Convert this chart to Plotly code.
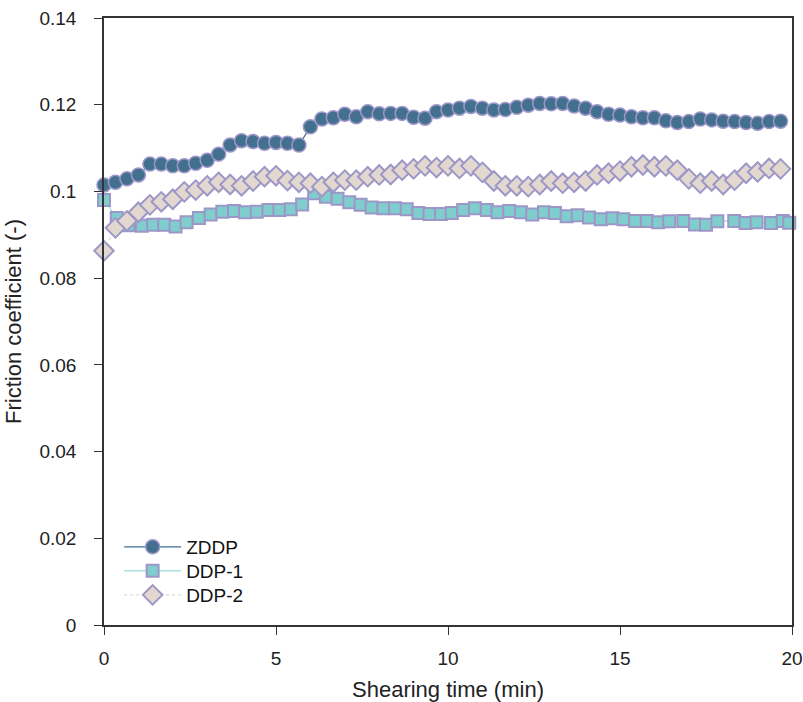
import plotly.graph_objects as go

# ---- data ----
t_zddp = [i / 3 for i in range(60)]
zddp = [0.1015, 0.1021, 0.1029, 0.1038, 0.1063, 0.1063, 0.1059, 0.1059, 0.1065, 0.1072,
        0.1086, 0.1107, 0.1117, 0.1115, 0.1111, 0.1113, 0.1111, 0.1107, 0.1149, 0.1167,
        0.1170, 0.1178, 0.1172, 0.1184, 0.1179, 0.1180, 0.1180, 0.1171, 0.1169, 0.1184,
        0.1188, 0.1192, 0.1196, 0.1192, 0.1188, 0.1189, 0.1194, 0.1199, 0.1203, 0.1202,
        0.1203, 0.1197, 0.1192, 0.1184, 0.1178, 0.1176, 0.1172, 0.1170, 0.1170, 0.1163,
        0.1159, 0.1161, 0.1167, 0.1165, 0.1162, 0.1161, 0.1159, 0.1157, 0.1161, 0.1162]

t_ddp1 = [0.0, 0.37, 0.71, 1.10, 1.43, 1.75, 2.08, 2.40, 2.76, 3.10,
          3.44, 3.78, 4.10, 4.44, 4.78, 5.10, 5.43, 5.76, 6.11, 6.45,
          6.79, 7.13, 7.46, 7.78, 8.12, 8.46, 8.80, 9.14, 9.46, 9.80,
          10.11, 10.44, 10.78, 11.13, 11.44, 11.78, 12.12, 12.45, 12.79, 13.11,
          13.45, 13.77, 14.10, 14.44, 14.78, 15.10, 15.44, 15.78, 16.11, 16.43,
          16.84, 17.18, 17.50, 17.83, 18.32, 18.65, 18.97, 19.39, 19.73, 19.92]
ddp1 = [0.0980, 0.0939, 0.0922, 0.0921, 0.0923, 0.0923, 0.0919, 0.0929, 0.0939, 0.0947,
        0.0953, 0.0955, 0.0952, 0.0953, 0.0957, 0.0957, 0.0959, 0.0970, 0.0996, 0.0988,
        0.0983, 0.0975, 0.0969, 0.0963, 0.0961, 0.0961, 0.0959, 0.0950, 0.0948, 0.0948,
        0.0950, 0.0957, 0.0961, 0.0957, 0.0952, 0.0955, 0.0952, 0.0947, 0.0952, 0.0950,
        0.0943, 0.0945, 0.0940, 0.0936, 0.0938, 0.0936, 0.0932, 0.0932, 0.0929, 0.0931,
        0.0932, 0.0924, 0.0923, 0.0931, 0.0932, 0.0927, 0.0929, 0.0927, 0.0932, 0.0928]

t_ddp2 = [i / 3 for i in range(60)]
ddp2 = [0.0863, 0.0916, 0.0932, 0.0952, 0.0969, 0.0976, 0.0982, 0.0999, 0.1003, 0.1013,
        0.1021, 0.1016, 0.1013, 0.1024, 0.1034, 0.1036, 0.1025, 0.1021, 0.1019, 0.1011,
        0.1021, 0.1026, 0.1026, 0.1034, 0.1038, 0.1039, 0.1049, 0.1052, 0.1059, 0.1055,
        0.1059, 0.1053, 0.1059, 0.1044, 0.1024, 0.1013, 0.1013, 0.1011, 0.1016, 0.1024,
        0.1019, 0.1021, 0.1024, 0.1038, 0.1042, 0.1047, 0.1057, 0.1061, 0.1057, 0.1059,
        0.1049, 0.1029, 0.1019, 0.1024, 0.1016, 0.1026, 0.1042, 0.1045, 0.1053, 0.1052]

y_ticks = [0, 0.02, 0.04, 0.06, 0.08, 0.1, 0.12, 0.14]
y_tick_labels = ["0", "0.02", "0.04", "0.06", "0.08", "0.1", "0.12", "0.14"]
x_ticks = [0, 5, 10, 15, 20]

edge = "#9d97c8"
fig = go.Figure()
fig.add_trace(go.Scatter(
    x=t_ddp1, y=ddp1, name="DDP-1", mode="lines+markers", legend="legend2",
    line=dict(color="#7fd3d3", width=1),
    marker=dict(symbol="square", size=12, color="#7fcdcc", line=dict(color=edge, width=2)),
    cliponaxis=False))
fig.add_trace(go.Scatter(
    x=t_ddp2, y=ddp2, name="DDP-2", mode="lines+markers", legend="legend3",
    line=dict(color="#d0d0d0", width=1, dash="dot"),
    marker=dict(symbol="diamond", size=15, color="#e3d8d0", line=dict(color=edge, width=2)),
    cliponaxis=False))
fig.add_trace(go.Scatter(
    x=t_zddp, y=zddp, name="ZDDP", mode="lines+markers", legend="legend",
    line=dict(color="#3f6f93", width=1.2),
    marker=dict(symbol="circle", size=14, color="#44708f", line=dict(color=edge, width=1.5)),
    cliponaxis=False))

font = "Liberation Sans, Arial, Helvetica, sans-serif"


def leg(ypaper):
    return dict(x=0.022, y=ypaper, xanchor="left", yanchor="middle",
                bgcolor="rgba(0,0,0,0)", font=dict(size=19, color="#111"),
                itemwidth=57)


fig.update_layout(
    width=803, height=702,
    margin=dict(l=104, r=11, t=18, b=77),
    plot_bgcolor="white", paper_bgcolor="white",
    font=dict(family=font, size=19, color="#222"),
    showlegend=True,
    legend=leg(0.1285),
    legend2=leg(0.0890),
    legend3=leg(0.0494),
    xaxis=dict(range=[0, 20], tickvals=x_ticks, ticks="outside", ticklen=8,
               tickcolor="#333", showline=True, linecolor="#333", linewidth=1.5,
               mirror=True, showgrid=False, zeroline=False, automargin=False,
               ticklabelstandoff=7,
               title=dict(text="Shearing time (min)", font=dict(size=22), standoff=14),
               tickfont=dict(size=19)),
    yaxis=dict(range=[0, 0.14], tickvals=y_ticks, ticktext=y_tick_labels,
               ticks="outside", ticklen=8, tickcolor="#333",
               showline=True, linecolor="#333", linewidth=1.5, mirror=True,
               showgrid=False, zeroline=False, automargin=False,
               ticklabelstandoff=14,
               title=dict(text="Friction coefficient (-)", font=dict(size=22), standoff=12),
               tickfont=dict(size=19)),
)
fig.write_html("out.html")
